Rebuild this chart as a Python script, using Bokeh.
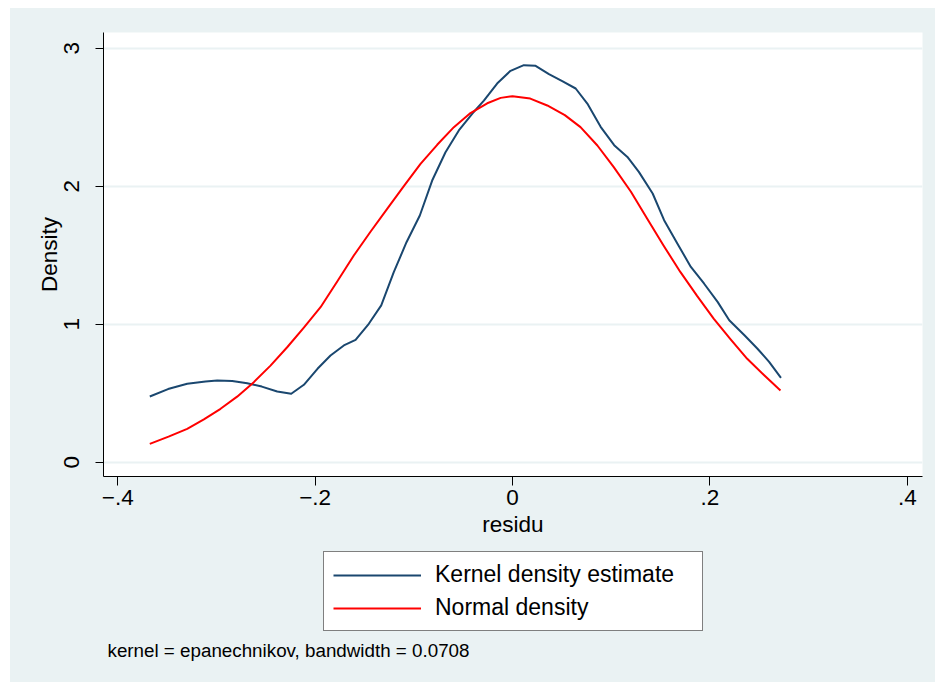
from bokeh.plotting import figure
from bokeh.layouts import column
from bokeh.models import Legend, LegendItem, Label, FixedTicker, Range1d
from bokeh.embed import file_html
from bokeh.resources import INLINE

# ---- data ----
kde_x = [-0.3675, -0.349, -0.3296, -0.311, -0.2992, -0.2840, -0.2688, -0.2540, -0.2384, -0.2242,
         -0.2114, -0.1976, -0.1844, -0.1709, -0.1590, -0.1456, -0.1330, -0.1203, -0.1074, -0.0939,
         -0.0814, -0.0679, -0.0544, -0.0409, -0.029, -0.0156, -0.002, 0.0115, 0.0234, 0.0369,
         0.0504, 0.064, 0.0758, 0.0893, 0.103, 0.1164, 0.128, 0.142, 0.1536, 0.167,
         0.1807, 0.194, 0.2078, 0.2196, 0.235, 0.248, 0.260, 0.272]
kde_y = [0.476, 0.530, 0.568, 0.585, 0.592, 0.588, 0.572, 0.548, 0.512, 0.496,
         0.561, 0.677, 0.773, 0.846, 0.887, 1.003, 1.136, 1.377, 1.594, 1.788,
         2.041, 2.246, 2.404, 2.525, 2.620, 2.744, 2.836, 2.877, 2.872, 2.812,
         2.761, 2.708, 2.599, 2.430, 2.297, 2.212, 2.104, 1.947, 1.754, 1.585,
         1.415, 1.295, 1.162, 1.029, 0.920, 0.824, 0.727, 0.611]

norm_x = [-0.3675, -0.3485, -0.3296, -0.3127, -0.2958, -0.2790, -0.2621, -0.2452, -0.2283, -0.2114,
          -0.1945, -0.1776, -0.1608, -0.1439, -0.1270, -0.1101, -0.0932, -0.0763, -0.0594, -0.0426,
          -0.0256, -0.0120, 0.0, 0.0180, 0.0352, 0.0530, 0.0689, 0.0860, 0.1026, 0.1200,
          0.1365, 0.1530, 0.1702, 0.1870, 0.2040, 0.2210, 0.2378, 0.2550, 0.2715]
norm_y = [0.133, 0.185, 0.242, 0.310, 0.387, 0.475, 0.580, 0.700, 0.833, 0.975,
          1.123, 1.310, 1.498, 1.670, 1.836, 2.000, 2.162, 2.300, 2.428, 2.530,
          2.601, 2.640, 2.652, 2.635, 2.585, 2.515, 2.428, 2.295, 2.138, 1.960,
          1.764, 1.570, 1.377, 1.205, 1.039, 0.890, 0.749, 0.630, 0.520]

x_ticks = [-0.4, -0.2, 0.0, 0.2, 0.4]
x_tick_labels = ["\u2212.4", "\u2212.2", "0", ".2", ".4"]
y_ticks = [0, 1, 2, 3]
y_tick_labels = ["0", "1", "2", "3"]

series_names = ["Kernel density estimate", "Normal density"]
note_text = "kernel = epanechnikov, bandwidth = 0.0708"
x_title = "residu"
y_title = "Density"

BG = "#EAF2F3"
NAVY = "#1A476F"
RED = "#FF0000"
FONT = "Liberation Sans"
FS = "22.5px"
NAN = float("nan")

# ---- main plot ----
p1 = figure(width=925, height=537, output_backend="svg", toolbar_location=None,
            x_range=Range1d(-0.4144, 0.4154), y_range=Range1d(-0.1036, 3.1138),
            min_border_left=93, min_border_right=13, min_border_top=24, min_border_bottom=69)
p1.background_fill_color = "white"
p1.border_fill_color = BG
p1.outline_line_color = None

r_kde = p1.line(kde_x, kde_y, line_color=NAVY, line_width=2, line_join="round")
r_norm = p1.line(norm_x, norm_y, line_color=RED, line_width=2, line_join="round")

p1.xgrid.visible = False
p1.ygrid.grid_line_color = BG
p1.ygrid.grid_line_width = 2
p1.ygrid.ticker = FixedTicker(ticks=y_ticks)

for ax in (p1.xaxis[0], p1.yaxis[0]):
    ax.axis_line_color = "black"
    ax.major_tick_line_color = "black"
    ax.minor_tick_line_color = None
    ax.major_tick_in = 0
    ax.major_label_text_font = FONT
    ax.major_label_text_font_size = FS
    ax.major_label_text_color = "black"
    ax.axis_label_text_font = FONT
    ax.axis_label_text_font_size = FS
    ax.axis_label_text_font_style = "normal"
    ax.axis_label_text_color = "black"

p1.xaxis.ticker = FixedTicker(ticks=x_ticks)
p1.xaxis.major_label_overrides = dict(zip(x_ticks, x_tick_labels))
p1.xaxis.axis_label = x_title
p1.xaxis.major_tick_out = 9
p1.xaxis.major_label_standoff = 4
p1.xaxis.axis_label_standoff = 4

p1.yaxis.ticker = FixedTicker(ticks=y_ticks)
p1.yaxis.major_label_overrides = dict(zip(y_ticks, y_tick_labels))
p1.yaxis.major_label_orientation = "parallel"
p1.yaxis.axis_label = y_title
p1.yaxis.major_tick_out = 8
p1.yaxis.major_label_standoff = 16
p1.yaxis.axis_label_standoff = 0

# ---- legend and note strip (pixel coordinates of the page) ----
p2 = figure(width=925, height=137, output_backend="svg", toolbar_location=None,
            x_range=Range1d(103, 922), y_range=Range1d(682, 545),
            x_axis_type=None, y_axis_type=None,
            min_border_left=93, min_border_right=13, min_border_top=0, min_border_bottom=0)
p2.background_fill_color = BG
p2.border_fill_color = BG
p2.outline_line_color = None
p2.grid.visible = False

k2 = p2.line([NAN], [NAN], line_color=NAVY, line_width=2)
n2 = p2.line([NAN], [NAN], line_color=RED, line_width=2)

legend = Legend(items=[LegendItem(label=series_names[0], renderers=[k2]),
                       LegendItem(label=series_names[1], renderers=[n2])],
                location=(220, 51), orientation="vertical",
                margin=0, padding=9, spacing=6,
                glyph_width=88, glyph_height=24, label_height=24,
                label_standoff=14, label_width=258,
                label_text_font=FONT, label_text_font_size="23px", label_text_color="black",
                border_line_color="black", border_line_width=1,
                background_fill_color="white", background_fill_alpha=1)
p2.add_layout(legend, "center")

note = Label(x=107, y=650, text=note_text,
             text_font=FONT, text_font_size="18.8px", text_baseline="middle",
             text_align="left", text_color="black")
p2.add_layout(note)

p = column(p1, p2, spacing=0, margin=(8, 0, 0, 10), styles={"background-color": BG})

open("out.html", "w").write(file_html(p, INLINE))
